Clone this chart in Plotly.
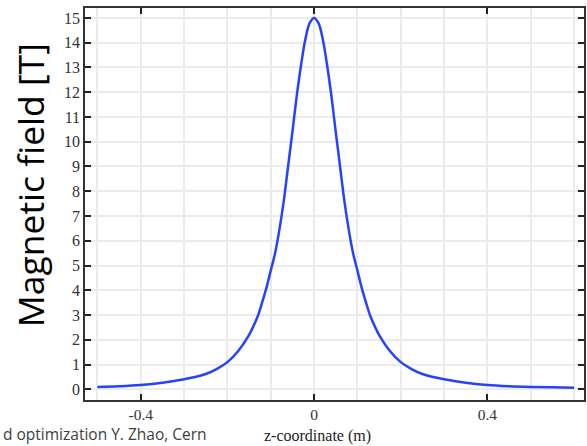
import plotly.graph_objects as go

# z-coordinate (m) and magnetic field (T)
z_m = [-0.50, -0.45, -0.40, -0.35, -0.30, -0.275, -0.25, -0.225, -0.20, -0.175, -0.15, -0.14, -0.13,
       -0.12, -0.11, -0.10, -0.09, -0.08, -0.07, -0.06, -0.05, -0.04, -0.03, -0.02, -0.01, 0.0,
       0.01, 0.02, 0.03, 0.04, 0.05, 0.06, 0.07, 0.08, 0.09, 0.10, 0.11, 0.12, 0.13, 0.14,
       0.15, 0.175, 0.20, 0.225, 0.25, 0.275, 0.30, 0.35, 0.40, 0.45, 0.50, 0.55, 0.60]
field_T = [0.1, 0.13, 0.18, 0.27, 0.41, 0.5, 0.62, 0.82, 1.1, 1.55, 2.2, 2.55, 2.95,
           3.5, 4.1, 4.8, 5.5, 6.45, 7.6, 9.0, 10.4, 11.85, 13.1, 14.15, 14.8, 15.0,
           14.8, 14.15, 13.1, 11.85, 10.4, 9.0, 7.6, 6.45, 5.5, 4.8, 4.1, 3.5, 2.95, 2.55,
           2.2, 1.55, 1.1, 0.82, 0.62, 0.5, 0.41, 0.27, 0.18, 0.13, 0.1, 0.08, 0.065]

x_ticks = [-0.4, 0, 0.4]
x_tick_labels = ["-0.4", "0", "0.4"]
y_ticks = list(range(0, 16))

W, H = 587, 446
L, R, T, B = 85, 1, 8, 46
pw, ph = W - L - R, H - T - B


def px(x):
    return (x - L) / pw


def py(y):
    return (H - B - y) / ph


fig = go.Figure()
fig.add_trace(go.Scatter(
    x=z_m, y=field_T, mode="lines",
    line=dict(color="#2642ff", width=2.5, shape="spline", smoothing=1.0),
    hoverinfo="skip", showlegend=False))

serif = "Liberation Serif"

fig.update_layout(
    width=W, height=H,
    margin=dict(l=L, r=R, t=T, b=B),
    paper_bgcolor="white", plot_bgcolor="white",
    xaxis=dict(
        range=[-0.5287, 0.623],
        tickmode="array", tickvals=x_ticks, ticktext=x_tick_labels,
        ticks="inside", ticklen=6, tickwidth=1.5, tickcolor="#222",
        showline=True, linecolor="#333", linewidth=1.5, mirror="ticks",
        showgrid=True, gridcolor="#ebebeb", gridwidth=1.5,
        minor=dict(dtick=0.1, tick0=0, showgrid=True, gridcolor="#ebebeb", gridwidth=1.5, ticks=""),
        tickfont=dict(family=serif, size=15.5, color="#333"),
        zeroline=False,
    ),
    yaxis=dict(
        range=[-0.43, 15.40],
        tickmode="array", tickvals=y_ticks,
        ticks="inside", ticklen=6, tickwidth=1.5, tickcolor="#222",
        showline=True, linecolor="#333", linewidth=1.5, mirror="ticks",
        showgrid=True, gridcolor="#ebebeb", gridwidth=1.5,
        tickfont=dict(family=serif, size=16, color="#333"),
        zeroline=False,
    ),
    annotations=[
        dict(text="Magnetic field [T]", textangle=-90, x=px(30), y=py(185),
             xref="paper", yref="paper", showarrow=False,
             font=dict(family="Open Sans", size=35.5, color="black"),
             xanchor="center", yanchor="middle"),
        dict(text="z-coordinate (m)", x=px(318), y=py(436),
             xref="paper", yref="paper", showarrow=False,
             font=dict(family=serif, size=16, color="#222"),
             xanchor="center", yanchor="middle"),
        dict(text="d optimization Y. Zhao, Cern", x=px(2), y=py(446),
             xref="paper", yref="paper", showarrow=False, borderpad=0,
             font=dict(family="Open Sans", size=15.5, color="#404040"),
             xanchor="left", yanchor="bottom"),
    ],
)

fig.write_html("out.html")
